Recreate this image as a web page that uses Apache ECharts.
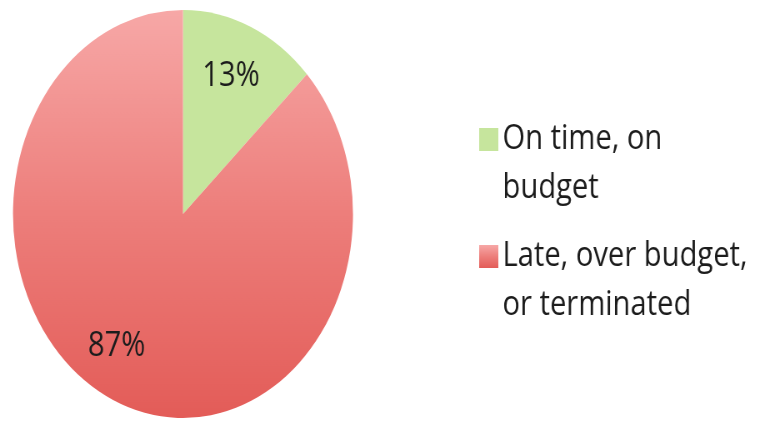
<!DOCTYPE html>
<html>
<head>
<meta charset="utf-8">
<script src="https://cdn.jsdelivr.net/npm/echarts@6/dist/echarts.min.js"></script>
<style>
  html, body { margin: 0; padding: 0; background: #ffffff; overflow: hidden; }
  #wrap { width: 765px; height: 429px; overflow: hidden; }
  #chart { width: 918px; height: 429px; transform: scaleX(0.8333); transform-origin: 0 0; }
</style>
</head>
<body>
<div id="wrap"><div id="chart"></div></div>
<script>
// ---- data ----
const categories = ['On time, on budget', 'Late, over budget, or terminated'];
const values = [13, 87];
const legendLabels = ['On time, on\nbudget', 'Late, over budget,\nor terminated'];

// ---- styles ----
const FONT = '"Open Sans"';
const sliceColors = [
  '#c6e59d',
  new echarts.graphic.LinearGradient(0, 0, 0, 1, [
    { offset: 0, color: '#f7a8a7' },
    { offset: 0.5, color: '#ed7e7b' },
    { offset: 1, color: '#e35c58' }
  ])
];
const labelOffsets = [[-2, 0], [-20, -6]];

const chart = echarts.init(document.getElementById('chart'), null, { renderer: 'canvas' });

const pieData = categories.map((name, i) => ({
  name: name,
  value: values[i],
  itemStyle: { color: sliceColors[i] }
}));
const labelData = categories.map((name, i) => ({
  name: name,
  value: values[i],
  label: { offset: labelOffsets[i] }
}));

chart.setOption({
  animation: false,
  legend: {
    orient: 'vertical',
    left: 570,
    top: 61,
    itemWidth: 23,
    itemHeight: 23,
    itemGap: -30,
    icon: 'rect',
    selectedMode: false,
    itemStyle: { borderWidth: 0 },
    data: categories,
    formatter: function (name) {
      return '\n' + legendLabels[categories.indexOf(name)];
    },
    textStyle: {
      fontFamily: FONT,
      fontSize: 35,
      lineHeight: 49,
      color: '#1c1c1c'
    }
  },
  series: [
    {
      type: 'pie',
      center: [219.6, 214],
      radius: [0, 204],
      startAngle: 90,
      clockwise: true,
      silent: true,
      itemStyle: { borderWidth: 0 },
      label: { show: false },
      labelLine: { show: false },
      data: pieData
    },
    {
      type: 'pie',
      center: [219.6, 214],
      radius: [90, 204],
      startAngle: 90,
      clockwise: true,
      silent: true,
      itemStyle: { color: 'rgba(0,0,0,0)', borderWidth: 0 },
      label: {
        show: true,
        position: 'inside',
        formatter: '{c}%',
        fontFamily: FONT,
        fontSize: 35,
        color: '#1c1c1c'
      },
      labelLine: { show: false },
      data: labelData
    }
  ]
});
</script>
</body>
</html>
